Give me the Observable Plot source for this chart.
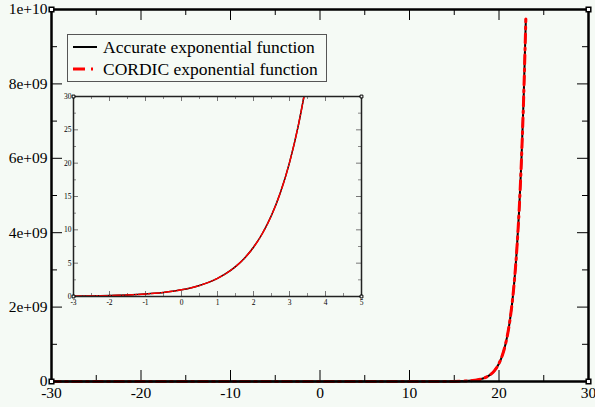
<!DOCTYPE html>
<html>
<head>
<meta charset="utf-8">
<script src="https://cdn.jsdelivr.net/npm/d3@7"></script>
<script src="https://cdn.jsdelivr.net/npm/@observablehq/plot@0.6"></script>
<style>
  html, body { margin: 0; padding: 0; background: #f5faf5; }
  #wrap { position: relative; width: 595px; height: 407px; overflow: hidden; font-family: "Liberation Serif", "Times New Roman", serif; }
  #main, #inset, #legend { position: absolute; }
  #legend { left: 67px; top: 34px; width: 258px; height: 46px; border: 1.5px solid #555; background: #f5faf5; font-size: 17.5px; color: #000; }
  #legend .row { position: absolute; left: 0; height: 20px; line-height: 20px; white-space: nowrap; }
  #legend svg { position: absolute; left: 5px; top: 4px; }
  #legend span { position: absolute; left: 35px; top: 0; }
</style>
</head>
<body>
<div id="wrap">
  <div id="main"></div>
  <div id="legend"></div>
  <div id="inset"></div>
</div>
<script>
// ---- main chart data ----
const mainX = [-30, -25, -20, -15, -10, -5, 0, 5, 10, 12, 14, 15, 16, 17, 18, 18.5, 19, 19.5, 20, 20.25, 20.5, 20.75, 21, 21.25, 21.5, 21.75, 22, 22.25, 22.5, 22.75, 23];
const mainY = [9.4e-14, 1.4e-11, 2.1e-9, 3.1e-7, 4.5e-5, 6.7e-3, 1, 148.4, 22026, 162755, 1.2026e6, 3.269e6, 8.886e6, 2.4155e7, 6.566e7, 1.0829e8, 1.7848e8, 2.9427e8, 4.8517e8, 6.230e8, 7.999e8, 1.0271e9, 1.3188e9, 1.6934e9, 2.1743e9, 2.7919e9, 3.5849e9, 4.6030e9, 5.9104e9, 7.5891e9, 9.7448e9];
const mainXDomain = [-30, 30];
const mainYDomain = [0, 1e10];
const mainXMajor = [-30, -20, -10, 0, 10, 20, 30];
const mainXMinor = [-25, -15, -5, 5, 15, 25];
const mainYMajor = [0, 2e9, 4e9, 6e9, 8e9, 1e10];
const mainYMinor = [1e9, 3e9, 5e9, 7e9, 9e9];
const mainYLabels = ["0", "2e+09", "4e+09", "6e+09", "8e+09", "1e+10"];

// ---- inset data ----
const insetX = [-3, -2.75, -2.5, -2.25, -2, -1.75, -1.5, -1.25, -1, -0.75, -0.5, -0.25, 0, 0.25, 0.5, 0.75, 1, 1.25, 1.5, 1.75, 2, 2.25, 2.5, 2.75, 3, 3.25, 3.4];
const insetY = [0.0498, 0.0639, 0.0821, 0.1054, 0.1353, 0.1738, 0.2231, 0.2865, 0.3679, 0.4724, 0.6065, 0.7788, 1, 1.2840, 1.6487, 2.1170, 2.7183, 3.4903, 4.4817, 5.7546, 7.3891, 9.4877, 12.1825, 15.6426, 20.0855, 25.7903, 29.9641];
const insetXDomain = [-3, 5];
const insetYDomain = [0, 30];
const insetXMajor = [-3, -2, -1, 0, 1, 2, 3, 4, 5];
const insetXMinor = [-2.5, -1.5, -0.5, 0.5, 1.5, 2.5, 3.5, 4.5];
const insetYMajor = [0, 5, 10, 15, 20, 25, 30];
const insetYMinor = [2.5, 7.5, 12.5, 17.5, 22.5, 27.5];

// ---- legend ----
const seriesNames = ["Accurate exponential function", "CORDIC exponential function"];
const seriesColors = ["#000000", "#ff0000"];

const mainData = mainX.map((x, i) => ({x, y: mainY[i]}));
const insetData = insetX.map((x, i) => ({x, y: insetY[i]}));
const corners = (xd, yd) => [{x: xd[0], y: yd[0]}, {x: xd[1], y: yd[0]}, {x: xd[0], y: yd[1]}, {x: xd[1], y: yd[1]}];
const FONT = "'Liberation Serif', 'Times New Roman', serif";

// inward ticks on all four sides, built from tick arrays through the scales
function frameTicks(xs, ys, innerW, innerH, len, stroke, sw) {
  return [
    Plot.tickX(xs, {x: d => d, insetTop: innerH - len, stroke, strokeWidth: sw}),
    Plot.tickX(xs, {x: d => d, insetBottom: innerH - len, stroke, strokeWidth: sw}),
    Plot.tickY(ys, {y: d => d, insetRight: innerW - len, stroke, strokeWidth: sw}),
    Plot.tickY(ys, {y: d => d, insetLeft: innerW - len, stroke, strokeWidth: sw})
  ];
}

const M = {w: 595, h: 407, l: 51, r: 7, t: 9, b: 26};
const mW = M.w - M.l - M.r, mH = M.h - M.t - M.b;

const main = Plot.plot({
  width: M.w, height: M.h,
  marginLeft: M.l, marginRight: M.r, marginTop: M.t, marginBottom: M.b,
  style: {background: "transparent", fontFamily: FONT, fontSize: "15.5px", color: "#000"},
  x: {domain: mainXDomain, axis: null},
  y: {domain: mainYDomain, axis: null},
  marks: [
    ...frameTicks(mainXMajor, mainYMajor, mW, mH, 11, "#000", 1),
    ...frameTicks(mainXMinor, mainYMinor, mW, mH, 6, "#000", 1),
    Plot.axisX(mainXMajor, {anchor: "bottom", label: null, tickSize: 0, tickPadding: 5, fontFamily: FONT, fontSize: 15.5, tickFormat: d => String(d)}),
    Plot.axisY(mainYMajor, {anchor: "left", label: null, tickSize: 0, tickPadding: 4, fontFamily: FONT, fontSize: 15.5, tickFormat: d => mainYLabels[mainYMajor.indexOf(d)]}),
    Plot.line(mainData, {x: "x", y: "y", stroke: seriesColors[0], strokeWidth: 2, curve: "monotone-x"}),
    Plot.line(mainData, {x: "x", y: "y", stroke: seriesColors[1], strokeWidth: 3, strokeDasharray: "9,5,2,5", curve: "monotone-x"}),
    Plot.frame({stroke: "#000", strokeWidth: 2.5}),
    Plot.dot(corners(mainXDomain, mainYDomain), {x: "x", y: "y", symbol: "square", r: 2.6, fill: "#fff", stroke: "#000", strokeWidth: 1.5})
  ]
});
const mainDiv = document.getElementById("main");
mainDiv.style.left = "0px"; mainDiv.style.top = "0px";
mainDiv.appendChild(main);

const I = {w: 310, h: 220, l: 15, r: 7, t: 6, b: 14};
const iW = I.w - I.l - I.r, iH = I.h - I.t - I.b;

const inset = Plot.plot({
  width: I.w, height: I.h,
  marginLeft: I.l, marginRight: I.r, marginTop: I.t, marginBottom: I.b,
  style: {background: "transparent", fontFamily: FONT, fontSize: "7.5px", color: "#000"},
  x: {domain: insetXDomain, axis: null},
  y: {domain: insetYDomain, axis: null},
  marks: [
    Plot.frame({fill: "#f5faf5", stroke: "none"}),
    ...frameTicks(insetXMajor, insetYMajor, iW, iH, 5, "#777", 1),
    ...frameTicks(insetXMinor, insetYMinor, iW, iH, 3, "#888", 1),
    Plot.axisX(insetXMajor, {anchor: "bottom", label: null, tickSize: 0, tickPadding: 3, fontFamily: FONT, fontSize: 7.5, tickFormat: d => String(d)}),
    Plot.axisY(insetYMajor, {anchor: "left", label: null, tickSize: 0, tickPadding: 2, fontFamily: FONT, fontSize: 7.5, tickFormat: d => String(d)}),
    Plot.line(insetData, {x: "x", y: "y", stroke: seriesColors[0], strokeWidth: 1.5, curve: "monotone-x"}),
    Plot.line(insetData, {x: "x", y: "y", stroke: seriesColors[1], strokeWidth: 1.5, strokeDasharray: "8,2,1,2", curve: "monotone-x"}),
    Plot.frame({stroke: "#222", strokeWidth: 1.5}),
    Plot.dot(corners(insetXDomain, insetYDomain), {x: "x", y: "y", symbol: "square", r: 1.6, fill: "#fff", stroke: "#000", strokeWidth: 1})
  ]
});
const insetDiv = document.getElementById("inset");
insetDiv.style.left = "58px"; insetDiv.style.top = "90px";
insetDiv.appendChild(inset);

// legend
const legend = document.getElementById("legend");
seriesNames.forEach((name, i) => {
  const row = document.createElement("div");
  row.className = "row";
  row.style.top = (2 + i * 22) + "px";
  const dash = i === 0 ? "" : `stroke-dasharray="12,6,2,6"`;
  row.innerHTML = `<svg width="26" height="12"><line x1="0" y1="6" x2="24" y2="6" stroke="${seriesColors[i]}" stroke-width="${i === 0 ? 2 : 3}" ${dash}/></svg><span>${name}</span>`;
  legend.appendChild(row);
});
</script>
</body>
</html>
